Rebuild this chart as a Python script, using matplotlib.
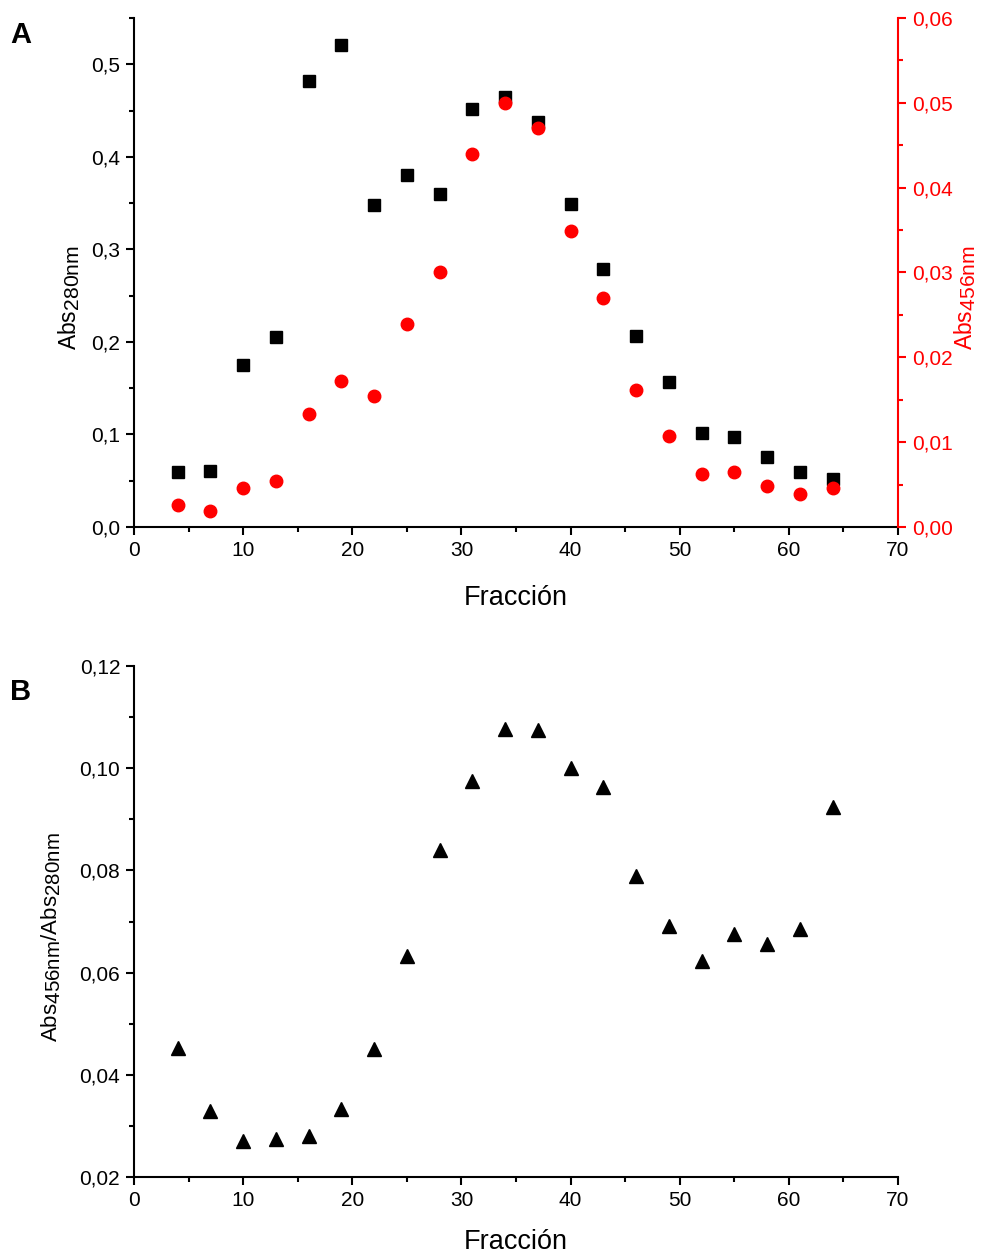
import numpy as np
import matplotlib
matplotlib.use('Agg')
import matplotlib.pyplot as plt
import matplotlib._mathtext as mtx
from matplotlib.ticker import MultipleLocator, FuncFormatter

plt.rcParams['font.family'] = ['Liberation Sans', 'DejaVu Sans']
plt.rcParams['mathtext.fontset'] = 'custom'
plt.rcParams['mathtext.rm'] = 'Liberation Sans'
plt.rcParams['mathtext.it'] = 'Liberation Sans'
# subscripts in the original are nearly full size
mtx.SHRINK_FACTOR = 0.92

# data
fraccion = [4, 7, 10, 13, 16, 19, 22, 25, 28, 31, 34, 37, 40, 43, 46, 49, 52, 55, 58, 61, 64]
abs280 = [0.059, 0.060, 0.175, 0.205, 0.482, 0.521, 0.348, 0.380, 0.360, 0.452, 0.465, 0.438,
          0.349, 0.279, 0.206, 0.157, 0.102, 0.097, 0.076, 0.059, 0.052]
abs456 = [0.0026, 0.0019, 0.0046, 0.0054, 0.0133, 0.0172, 0.0154, 0.0239, 0.0301, 0.0440, 0.0500,
          0.0470, 0.0349, 0.0270, 0.0162, 0.0107, 0.0063, 0.0065, 0.0048, 0.0039, 0.0046]
ratio = [0.0452, 0.0330, 0.0270, 0.0274, 0.0281, 0.0334, 0.0450, 0.0632, 0.0840, 0.0976, 0.1076,
         0.1075, 0.1001, 0.0964, 0.0789, 0.0691, 0.0623, 0.0676, 0.0656, 0.0685, 0.0924]

def comma(fmt):
    return FuncFormatter(lambda v, p: (fmt % v).replace('.', ','))

def style(ax):
    ax.tick_params(which='major', direction='out', length=6, width=1.5, labelsize=15, pad=4)
    ax.tick_params(which='minor', direction='out', length=3.5, width=1.5)

fig = plt.figure(figsize=(9.82, 12.56), dpi=100)

# panel A
ax = fig.add_axes([0.1365, 0.5804, 0.778, 0.4053])
ax.plot(fraccion, abs280, 's', color='k', markersize=8, linestyle='none')
ax.set_xlim(0, 70)
ax.set_ylim(0, 0.55)
ax.xaxis.set_major_locator(MultipleLocator(10))
ax.xaxis.set_minor_locator(MultipleLocator(5))
ax.yaxis.set_major_locator(MultipleLocator(0.1))
ax.yaxis.set_minor_locator(MultipleLocator(0.05))
ax.yaxis.set_major_formatter(comma('%.1f'))
ax.spines['top'].set_visible(False)
ax.spines['right'].set_visible(False)
for s in ['left', 'bottom']:
    ax.spines[s].set_linewidth(1.5)
style(ax)
ax.set_xlabel('Fracción', fontsize=19.5, labelpad=18)
ax.set_ylabel(r'Abs$_{\mathregular{280nm}}$', fontsize=16.5)
ax.yaxis.set_label_coords(-0.068, 0.45)

ax2 = ax.twinx()
ax2.plot(fraccion, abs456, 'o', color='#ff0000', markersize=9, linestyle='none')
ax2.set_ylim(0, 0.06)
ax2.yaxis.set_major_locator(MultipleLocator(0.01))
ax2.yaxis.set_minor_locator(MultipleLocator(0.005))
ax2.yaxis.set_major_formatter(comma('%.2f'))
for s in ['top', 'left', 'bottom']:
    ax2.spines[s].set_visible(False)
ax2.spines['right'].set_color('#ff0000')
ax2.spines['right'].set_linewidth(1.5)
style(ax2)
ax2.tick_params(axis='y', which='both', colors='#ff0000')
ax2.set_ylabel(r'Abs$_{\mathregular{456nm}}$', fontsize=16.5, color='#ff0000')
ax2.yaxis.set_label_coords(1.071, 0.45)

# panel B
bx = fig.add_axes([0.1365, 0.0629, 0.778, 0.4068])
bx.plot(fraccion, ratio, '^', color='k', markersize=10, linestyle='none')
bx.set_xlim(0, 70)
bx.set_ylim(0.02, 0.12)
bx.xaxis.set_major_locator(MultipleLocator(10))
bx.xaxis.set_minor_locator(MultipleLocator(5))
bx.yaxis.set_major_locator(MultipleLocator(0.02))
bx.yaxis.set_minor_locator(MultipleLocator(0.01))
bx.yaxis.set_major_formatter(comma('%.2f'))
bx.spines['top'].set_visible(False)
bx.spines['right'].set_visible(False)
for s in ['left', 'bottom']:
    bx.spines[s].set_linewidth(1.5)
style(bx)
bx.set_xlabel('Fracción', fontsize=19.5, labelpad=14)
bx.set_ylabel(r'Abs$_{\mathregular{456nm}}$/Abs$_{\mathregular{280nm}}$', fontsize=16)
bx.yaxis.set_label_coords(-0.093, 0.47)

fig.text(0.010, 0.972, 'A', fontsize=21, fontweight='bold', va='center')
fig.text(0.010, 0.449, 'B', fontsize=21, fontweight='bold', va='center')

fig.savefig('out.png', dpi=100)
